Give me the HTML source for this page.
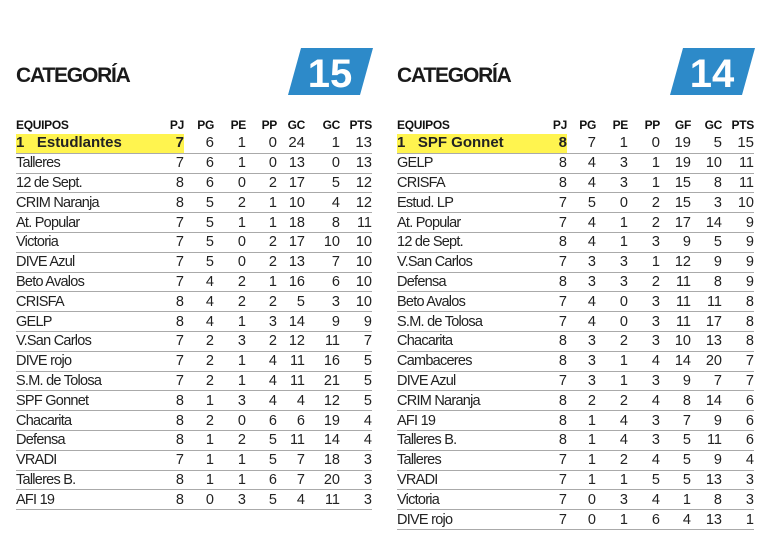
<!DOCTYPE html><html><head><meta charset="utf-8"><style>
body{margin:0;width:769px;height:545px;background:#fff;position:relative;overflow:hidden;font-family:"Liberation Sans",sans-serif;color:#222}
.t{position:absolute;font:bold 21px "Liberation Sans",sans-serif;color:#1a1a1a;top:64px;letter-spacing:-1.2px}
.b{position:absolute;top:48px}
table{position:absolute;top:116px;border-collapse:collapse;font-size:14.5px}
td{height:18.8px;padding:0;text-align:right;border-bottom:1px solid #aaa;line-height:18px;white-space:nowrap;vertical-align:middle}
td:first-child{text-align:left;letter-spacing:-0.75px}
tr.h td{font-weight:bold;font-size:12px;border-bottom:none;height:18px;color:#111;letter-spacing:-0.3px}
tr.y td{font-weight:bold;font-size:15px;color:#222}
tr.y td:first-child{letter-spacing:0}
tr.y td:first-child,tr.y td:nth-child(2){background:#fff44f}
</style></head><body>
<div class="t" style="left:16px">CATEGORÍA</div>
<div class="t" style="left:397px">CATEGORÍA</div>
<svg class="b" style="left:288px" width="86" height="48"><polygon points="13,0 85,0 72,47 0,47" fill="#2d8ac9"/><text x="42" y="39" text-anchor="middle" font-family="Liberation Sans" font-weight="bold" font-size="40" fill="#fff">15</text></svg>
<svg class="b" style="left:670px" width="86" height="48"><polygon points="13,0 85,0 72,47 0,47" fill="#2d8ac9"/><text x="42" y="39" text-anchor="middle" font-family="Liberation Sans" font-weight="bold" font-size="40" fill="#fff">14</text></svg>
<table style="left:16px">
<colgroup><col style="width:144px"><col style="width:24px"><col style="width:30px"><col style="width:32px"><col style="width:31px"><col style="width:28px"><col style="width:35px"><col style="width:32px"></colgroup>
<tr class="h"><td>EQUIPOS</td><td>PJ</td><td>PG</td><td>PE</td><td>PP</td><td>GC</td><td>GC</td><td>PTS</td></tr>
<tr class="y"><td>1&nbsp;&nbsp;&nbsp;Estudlantes</td><td>7</td><td style="font-weight:normal">6</td><td style="font-weight:normal">1</td><td style="font-weight:normal">0</td><td style="font-weight:normal">24</td><td style="font-weight:normal">1</td><td style="font-weight:normal">13</td></tr>
<tr><td>Talleres</td><td>7</td><td>6</td><td>1</td><td>0</td><td>13</td><td>0</td><td>13</td></tr>
<tr><td>12 de Sept.</td><td>8</td><td>6</td><td>0</td><td>2</td><td>17</td><td>5</td><td>12</td></tr>
<tr><td>CRIM Naranja</td><td>8</td><td>5</td><td>2</td><td>1</td><td>10</td><td>4</td><td>12</td></tr>
<tr><td>At. Popular</td><td>7</td><td>5</td><td>1</td><td>1</td><td>18</td><td>8</td><td>11</td></tr>
<tr><td>Victoria</td><td>7</td><td>5</td><td>0</td><td>2</td><td>17</td><td>10</td><td>10</td></tr>
<tr><td>DIVE Azul</td><td>7</td><td>5</td><td>0</td><td>2</td><td>13</td><td>7</td><td>10</td></tr>
<tr><td>Beto Avalos</td><td>7</td><td>4</td><td>2</td><td>1</td><td>16</td><td>6</td><td>10</td></tr>
<tr><td>CRISFA</td><td>8</td><td>4</td><td>2</td><td>2</td><td>5</td><td>3</td><td>10</td></tr>
<tr><td>GELP</td><td>8</td><td>4</td><td>1</td><td>3</td><td>14</td><td>9</td><td>9</td></tr>
<tr><td>V.San Carlos</td><td>7</td><td>2</td><td>3</td><td>2</td><td>12</td><td>11</td><td>7</td></tr>
<tr><td>DIVE rojo</td><td>7</td><td>2</td><td>1</td><td>4</td><td>11</td><td>16</td><td>5</td></tr>
<tr><td>S.M. de Tolosa</td><td>7</td><td>2</td><td>1</td><td>4</td><td>11</td><td>21</td><td>5</td></tr>
<tr><td>SPF Gonnet</td><td>8</td><td>1</td><td>3</td><td>4</td><td>4</td><td>12</td><td>5</td></tr>
<tr><td>Chacarita</td><td>8</td><td>2</td><td>0</td><td>6</td><td>6</td><td>19</td><td>4</td></tr>
<tr><td>Defensa</td><td>8</td><td>1</td><td>2</td><td>5</td><td>11</td><td>14</td><td>4</td></tr>
<tr><td>VRADI</td><td>7</td><td>1</td><td>1</td><td>5</td><td>7</td><td>18</td><td>3</td></tr>
<tr><td>Talleres B.</td><td>8</td><td>1</td><td>1</td><td>6</td><td>7</td><td>20</td><td>3</td></tr>
<tr><td>AFI 19</td><td>8</td><td>0</td><td>3</td><td>5</td><td>4</td><td>11</td><td>3</td></tr>
</table>
<table style="left:397px">
<colgroup><col style="width:148px"><col style="width:22px"><col style="width:29px"><col style="width:32px"><col style="width:32px"><col style="width:31px"><col style="width:31px"><col style="width:32px"></colgroup>
<tr class="h"><td>EQUIPOS</td><td>PJ</td><td>PG</td><td>PE</td><td>PP</td><td>GF</td><td>GC</td><td>PTS</td></tr>
<tr class="y"><td>1&nbsp;&nbsp;&nbsp;SPF Gonnet</td><td>8</td><td style="font-weight:normal">7</td><td style="font-weight:normal">1</td><td style="font-weight:normal">0</td><td style="font-weight:normal">19</td><td style="font-weight:normal">5</td><td style="font-weight:normal">15</td></tr>
<tr><td>GELP</td><td>8</td><td>4</td><td>3</td><td>1</td><td>19</td><td>10</td><td>11</td></tr>
<tr><td>CRISFA</td><td>8</td><td>4</td><td>3</td><td>1</td><td>15</td><td>8</td><td>11</td></tr>
<tr><td>Estud. LP</td><td>7</td><td>5</td><td>0</td><td>2</td><td>15</td><td>3</td><td>10</td></tr>
<tr><td>At. Popular</td><td>7</td><td>4</td><td>1</td><td>2</td><td>17</td><td>14</td><td>9</td></tr>
<tr><td>12 de Sept.</td><td>8</td><td>4</td><td>1</td><td>3</td><td>9</td><td>5</td><td>9</td></tr>
<tr><td>V.San Carlos</td><td>7</td><td>3</td><td>3</td><td>1</td><td>12</td><td>9</td><td>9</td></tr>
<tr><td>Defensa</td><td>8</td><td>3</td><td>3</td><td>2</td><td>11</td><td>8</td><td>9</td></tr>
<tr><td>Beto Avalos</td><td>7</td><td>4</td><td>0</td><td>3</td><td>11</td><td>11</td><td>8</td></tr>
<tr><td>S.M. de Tolosa</td><td>7</td><td>4</td><td>0</td><td>3</td><td>11</td><td>17</td><td>8</td></tr>
<tr><td>Chacarita</td><td>8</td><td>3</td><td>2</td><td>3</td><td>10</td><td>13</td><td>8</td></tr>
<tr><td>Cambaceres</td><td>8</td><td>3</td><td>1</td><td>4</td><td>14</td><td>20</td><td>7</td></tr>
<tr><td>DIVE Azul</td><td>7</td><td>3</td><td>1</td><td>3</td><td>9</td><td>7</td><td>7</td></tr>
<tr><td>CRIM Naranja</td><td>8</td><td>2</td><td>2</td><td>4</td><td>8</td><td>14</td><td>6</td></tr>
<tr><td>AFI 19</td><td>8</td><td>1</td><td>4</td><td>3</td><td>7</td><td>9</td><td>6</td></tr>
<tr><td>Talleres B.</td><td>8</td><td>1</td><td>4</td><td>3</td><td>5</td><td>11</td><td>6</td></tr>
<tr><td>Talleres</td><td>7</td><td>1</td><td>2</td><td>4</td><td>5</td><td>9</td><td>4</td></tr>
<tr><td>VRADI</td><td>7</td><td>1</td><td>1</td><td>5</td><td>5</td><td>13</td><td>3</td></tr>
<tr><td>Victoria</td><td>7</td><td>0</td><td>3</td><td>4</td><td>1</td><td>8</td><td>3</td></tr>
<tr><td>DIVE rojo</td><td>7</td><td>0</td><td>1</td><td>6</td><td>4</td><td>13</td><td>1</td></tr>
</table>
</body></html>
